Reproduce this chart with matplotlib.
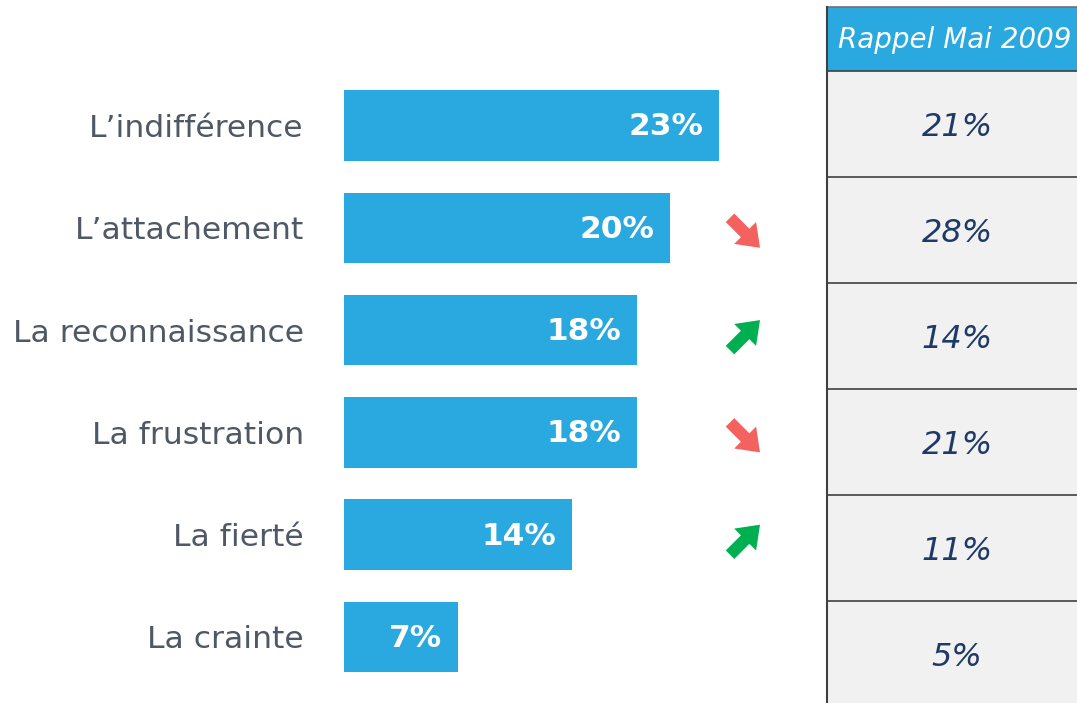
import matplotlib
matplotlib.use("Agg")
import matplotlib.pyplot as plt
from matplotlib.patches import Rectangle, FancyArrow
import numpy as np

# ---- data ----
categories = ["L\u2019indifférence", "L\u2019attachement", "La reconnaissance",
              "La frustration", "La fierté", "La crainte"]
values = [23, 20, 18, 18, 14, 7]
previous = [21, 28, 14, 21, 11, 5]
trend = [None, "down", "up", "down", "up", None]
table_header = "Rappel Mai 2009"

BLUE = "#29A9E0"
LABEL = "#4E5866"
NAVY = "#1F3A66"
RED = "#F4625F"
GREEN = "#00B050"
FONT = "DejaVu Sans"

W, H = 1077, 703
fig = plt.figure(figsize=(W / 100, H / 100), dpi=100)
fig.patch.set_facecolor("white")

# ---- bar axes ----
top_px, bot_px = 74.35, 688.15
ax = fig.add_axes([344 / W, 1 - bot_px / H, 375 / W, (bot_px - top_px) / H])
y = np.arange(len(categories))
ax.barh(y, values, height=0.69, color=BLUE, edgecolor="none")
ax.set_xlim(0, 23)
ax.set_ylim(len(categories) - 0.5, -0.5)
ax.set_yticks(y)
ax.set_yticklabels(categories, fontsize=22.6, color=LABEL, family=FONT)
ax.tick_params(axis="y", length=0, pad=29)
ax.set_xticks([])
for s in ax.spines.values():
    s.set_visible(False)
ax.patch.set_alpha(0)
for i, v in enumerate(values):
    ax.annotate(f"{v}%", xy=(v, i), xytext=(-11.5, -1), textcoords="offset points",
                ha="right", va="center", color="white", fontsize=22.5,
                fontweight="bold", family=FONT)

# ---- overlay (pixel space) for arrows and table ----
ov = fig.add_axes([0, 0, 1, 1])
ov.set_xlim(0, W)
ov.set_ylim(H, 0)
ov.axis("off")
ov.patch.set_alpha(0)

# arrows, centred next to each bar
row_px = [top_px + (bot_px - top_px) * (i + 0.5) / len(categories) for i in range(len(categories))]
for i, t in enumerate(trend):
    if t is None:
        continue
    cy = row_px[i] + 5
    cx = 745
    d = 15
    if t == "down":
        arr = FancyArrow(cx - d, cy - d, 2 * d, 2 * d, width=12, head_width=31,
                         head_length=21, length_includes_head=True, color=RED, lw=0)
    else:
        arr = FancyArrow(cx - d, cy + d, 2 * d, -2 * d, width=12, head_width=31,
                         head_length=21, length_includes_head=True, color=GREEN, lw=0)
    ov.add_patch(arr)

# table
tx0, tx1 = 827, W + 5
ty0, hdr_h, row_h = 7, 64, 106
ov.add_patch(Rectangle((tx0, ty0), tx1 - tx0, hdr_h, facecolor=BLUE, edgecolor="none"))
ov.text(955, ty0 + hdr_h / 2 + 1, table_header, ha="center", va="center",
        color="white", fontsize=20, style="italic", family=FONT)
for i, p in enumerate(previous):
    r0 = ty0 + hdr_h + i * row_h
    ov.add_patch(Rectangle((tx0, r0), tx1 - tx0, row_h, facecolor="#F1F1F1", edgecolor="none"))
    ov.text(957, r0 + row_h / 2 + 4, f"{p}%", ha="center", va="center", color=NAVY,
            fontsize=23, style="italic", family=FONT)
    ov.plot([tx0, tx1], [r0, r0], color="#404040", lw=1.2, solid_capstyle="butt")
ov.plot([tx0, tx1], [ty0, ty0], color="#707070", lw=1.2)
ov.plot([tx0, tx0], [ty0, H + 5], color="#404040", lw=1.5)

fig.savefig("out.png", dpi=100)
